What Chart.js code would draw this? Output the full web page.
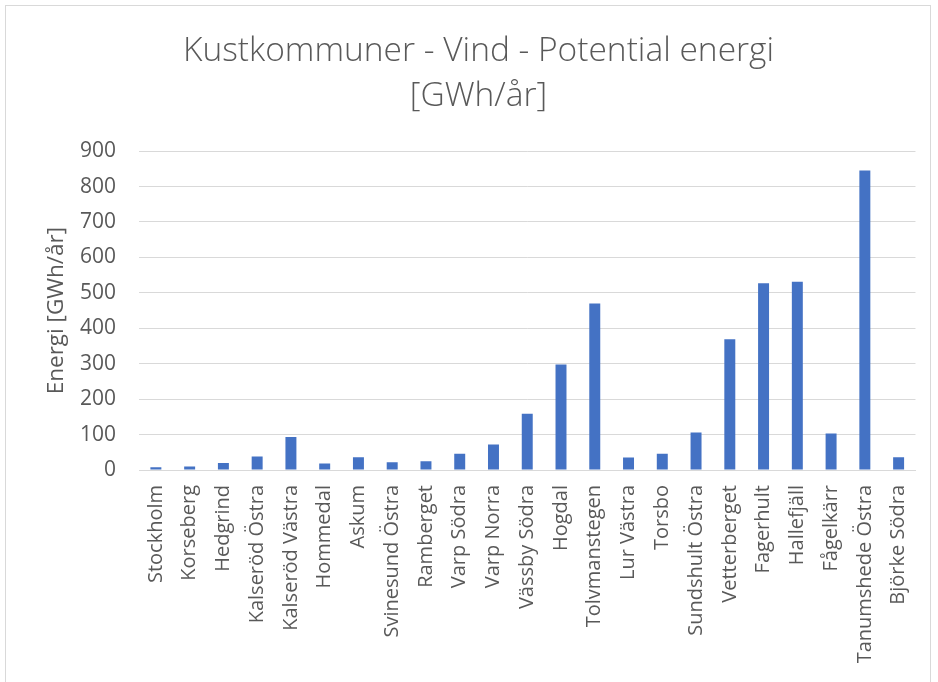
<!DOCTYPE html>
<html>
<head>
<meta charset="utf-8">
<script src="https://cdn.jsdelivr.net/npm/chart.js@4"></script>
<style>
  html, body { margin: 0; padding: 0; background: #fff; }
  #frame {
    position: absolute; left: 5px; top: 5px; width: 926px; height: 700px;
    border: 1px solid #d9d9d9; box-sizing: border-box;
  }
  #wrap { position: absolute; left: 0; top: 0; width: 938px; height: 682px; }
</style>
</head>
<body>
<div id="frame"></div>
<div id="wrap"><canvas id="c" width="938" height="682"></canvas></div>
<script>
// Potential wind energy per site, GWh per year
const sites = [
  "Stockholm", "Korseberg", "Hedgrind", "Kalseröd Östra", "Kalseröd Västra",
  "Hommedal", "Askum", "Svinesund Östra", "Ramberget", "Varp Södra",
  "Varp Norra", "Vässby Södra", "Hogdal", "Tolvmanstegen", "Lur Västra",
  "Torsbo", "Sundshult Östra", "Vetterberget", "Fagerhult", "Hallefjäll",
  "Fågelkärr", "Tanumshede Östra", "Björke Södra"
];
const energy = [
  8, 10, 20, 38, 93,
  18, 36, 22, 25, 46,
  72, 159, 298, 470, 35,
  46, 106, 369, 527, 531,
  103, 845, 36
];
const yTicks = [0, 100, 200, 300, 400, 500, 600, 700, 800, 900];
const titleLines = ["Kustkommuner - Vind - Potential energi", "[GWh/år]"];
const yTitle = "Energi [GWh/år]";

const textColor = "#595959";
const gridColor = "#d9d9d9";
const fontFamily = "'Open Sans', 'Noto Sans', sans-serif";

new Chart(document.getElementById("c"), {
  type: "bar",
  data: {
    labels: sites,
    datasets: [{
      data: energy,
      backgroundColor: "#4472C4",
      borderWidth: 0,
      barPercentage: 0.65,
      categoryPercentage: 0.5
    }]
  },
  options: {
    responsive: false,
    animation: false,
    devicePixelRatio: 1,
    layout: { padding: { left: 37, right: 18, top: 29, bottom: 0 } },
    plugins: {
      legend: { display: false },
      tooltip: { enabled: false },
      title: {
        display: true,
        text: titleLines,
        color: textColor,
        font: { family: fontFamily, size: 33.5, weight: "300", lineHeight: 1.345 },
        padding: { top: 0, bottom: 32 }
      }
    },
    scales: {
      x: {
        afterFit: (axis) => { axis.height = 212; },
        grid: { display: false, drawTicks: false },
        border: { display: true, color: gridColor, width: 1 },
        ticks: {
          color: textColor,
          font: { family: fontFamily, size: 20 },
          minRotation: 90,
          maxRotation: 90,
          autoSkip: false,
          padding: 15
        }
      },
      y: {
        min: 0,
        max: 900,
        afterFit: (axis) => { axis.width = 102; },
        afterBuildTicks: (axis) => { axis.ticks = yTicks.map(v => ({ value: v })); },
        grid: { color: gridColor, lineWidth: 1, drawTicks: false },
        border: { display: false },
        ticks: {
          color: textColor,
          font: { family: fontFamily, size: 21 },
          padding: 23
        },
        title: {
          display: true,
          text: yTitle,
          color: textColor,
          font: { family: fontFamily, size: 22.5 },
          padding: { top: 6, bottom: 0 }
        }
      }
    }
  }
});
</script>
</body>
</html>
